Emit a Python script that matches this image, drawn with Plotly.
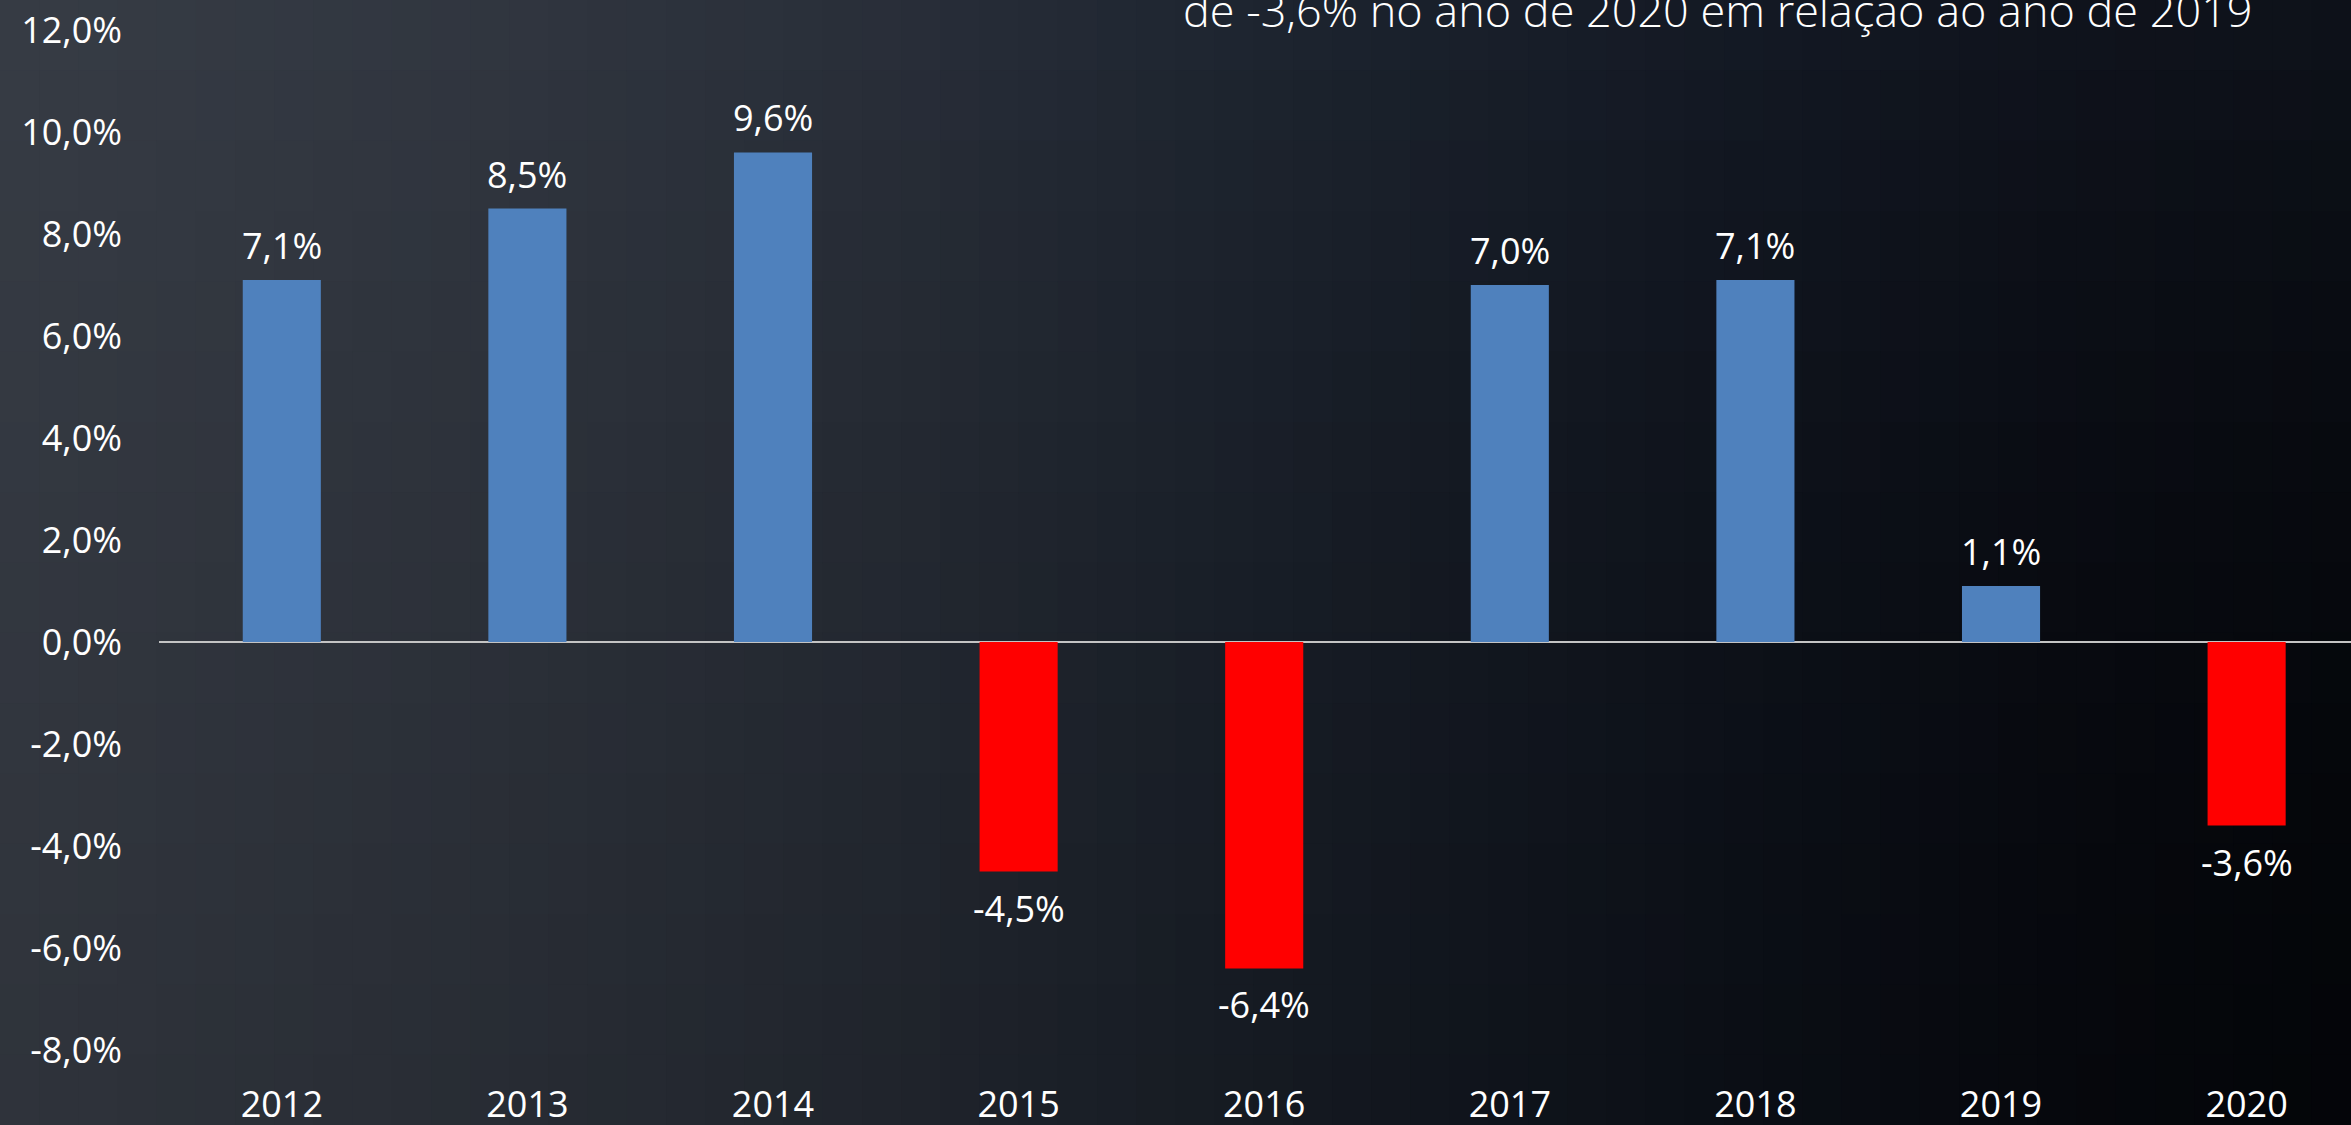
import plotly.graph_objects as go

# ---------------- data ----------------
years = ["2012", "2013", "2014", "2015", "2016", "2017", "2018", "2019", "2020"]
growth = [7.1, 8.5, 9.6, -4.5, -6.4, 7.0, 7.1, 1.1, -3.6]
y_tick_vals = [12, 10, 8, 6, 4, 2, 0, -2, -4, -6, -8]
y_tick_text = ["12,0%", "10,0%", "8,0%", "6,0%", "4,0%", "2,0%", "0,0%",
               "-2,0%", "-4,0%", "-6,0%", "-8,0%"]
subtitle = "de -3,6% no ano de 2020 em relação ao ano de 2019"

POS_COLOR = "#4f81bd"
NEG_COLOR = "#ff0000"

# ---------------- geometry ----------------
W, H = 2351, 1125
L = 159          # plot left edge (px)
T = 30           # plot top (px)
BOT = 1050       # plot bottom (px)
PW = W - L
PH = BOT - T


def px_x(px):
    return (px - L) / PW


def px_y(py):
    return (BOT - py) / PH


# ---------------- background gradient ----------------
x_stops = [0.0, 0.2, 0.38, 0.5, 0.62, 0.75, 0.88, 1.0]
c_stops = [(55, 60, 69), (47, 52, 61), (37, 42, 51), (27, 33, 42),
           (19, 24, 33), (12, 16, 24), (7, 9, 15), (4, 6, 10)]


def base_color(xn):
    for i in range(len(x_stops) - 1):
        if x_stops[i] <= xn <= x_stops[i + 1]:
            t = (xn - x_stops[i]) / (x_stops[i + 1] - x_stops[i])
            return tuple(c_stops[i][k] + t * (c_stops[i + 1][k] - c_stops[i][k]) for k in range(3))
    return c_stops[-1]


def bg_color(xn, yn):
    b = base_color(xn)
    boost = (10, 12, 16)
    f = 1 - 0.15 * yn
    g = (1 - yn) ** 2 * xn
    c = [max(0, min(255, round(b[k] * f + g * boost[k]))) for k in range(3)]
    return "rgb(%d,%d,%d)" % tuple(c)


shapes = []
NX, NY = 60, 16
cw = W / NX
ch = H / NY
for i in range(NX):
    for j in range(NY):
        x0 = i * cw
        y0 = j * ch
        col = bg_color((x0 + cw / 2) / W, (y0 + ch / 2) / H)
        shapes.append(dict(
            type="rect", xref="paper", yref="paper", layer="below",
            x0=px_x(x0), x1=px_x(x0 + cw + 1.5),
            y0=px_y(y0 + ch + 1.5), y1=px_y(y0),
            fillcolor=col, line=dict(width=0),
        ))

# ---------------- figure ----------------
colors = [POS_COLOR if v >= 0 else NEG_COLOR for v in growth]

fig = go.Figure(go.Bar(
    x=years, y=growth, marker=dict(color=colors, line=dict(width=0)),
    hoverinfo="skip",
))

annotations = []
for idx, v in enumerate(growth):
    label = ("%.1f" % v).replace(".", ",") + "%"
    annotations.append(dict(
        x=idx, y=v, xref="x", yref="y", text=label, showarrow=False,
        xanchor="center",
        yanchor="bottom" if v >= 0 else "top",
        yshift=8 if v >= 0 else -10,
        font=dict(family="Open Sans", size=36, color="white"),
    ))

annotations.append(dict(
    x=px_x(1718), y=px_y(42), xref="paper", yref="paper",
    text=subtitle, showarrow=False, xanchor="center", yanchor="bottom",
    font=dict(family="Open Sans", size=45, color="white", weight=300),
))

fig.update_layout(
    width=W, height=H,
    margin=dict(l=L, r=0, t=T, b=H - BOT, pad=0, autoexpand=False),
    paper_bgcolor="rgb(25,30,38)",
    plot_bgcolor="rgba(0,0,0,0)",
    bargap=0.682,
    showlegend=False,
    shapes=shapes,
    annotations=annotations,
    xaxis=dict(
        type="category", range=[-0.5, 8.425], showgrid=False, zeroline=False,
        showline=False, ticks="", ticklabelstandoff=30, automargin=False,
        tickfont=dict(family="Open Sans", size=36, color="white"),
        fixedrange=True,
    ),
    yaxis=dict(
        range=[-8, 12], tickvals=y_tick_vals, ticktext=y_tick_text,
        showgrid=False, zeroline=True, zerolinecolor="#c4c4c4", zerolinewidth=2,
        showline=False, ticks="", ticklabelstandoff=36, automargin=False,
        tickfont=dict(family="Open Sans", size=36, color="white"),
        fixedrange=True,
    ),
)

fig.write_html(
    "out.html",
    config={"displayModeBar": False},
    post_script="document.body.style.margin='0';document.body.style.overflow='hidden';",
)
